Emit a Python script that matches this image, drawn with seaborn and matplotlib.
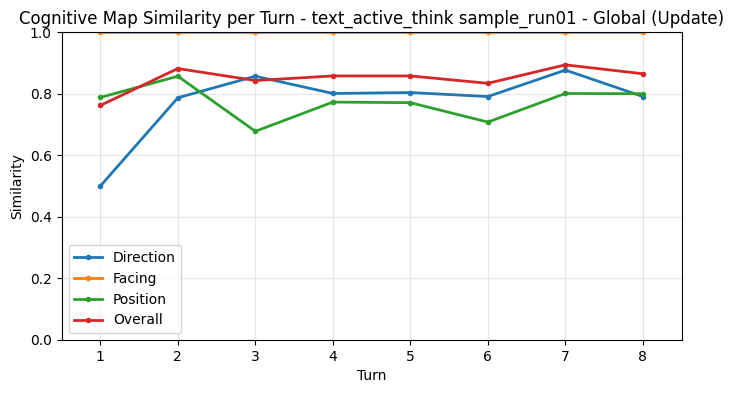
import matplotlib
matplotlib.use('Agg')
import matplotlib.pyplot as plt
import seaborn as sns
import pandas as pd

turns = [1, 2, 3, 4, 5, 6, 7, 8]
direction = [0.500, 0.787, 0.857, 0.801, 0.804, 0.791, 0.877, 0.791]
facing = [1.0, 1.0, 1.0, 1.0, 1.0, 1.0, 1.0, 1.0]
position = [0.788, 0.857, 0.678, 0.773, 0.771, 0.708, 0.801, 0.800]
overall = [0.762, 0.882, 0.843, 0.858, 0.858, 0.834, 0.894, 0.865]

series = {'Direction': direction, 'Facing': facing, 'Position': position, 'Overall': overall}
colors = ['#1f77b4', '#ff7f0e', '#2ca02c', '#d62728']

records = []
for name, vals in series.items():
    for t, v in zip(turns, vals):
        records.append({'Turn': t, 'Similarity': v, 'Metric': name})
df = pd.DataFrame(records)

fig, ax = plt.subplots(figsize=(7.33, 3.93), dpi=100)
fig.subplots_adjust(left=0.084, right=0.930, top=0.918, bottom=0.135)

sns.lineplot(data=df, x='Turn', y='Similarity', hue='Metric', palette=colors,
             marker='o', markersize=4, markeredgewidth=0, linewidth=2, ax=ax)

ax.set_ylim(0, 1.0)
ax.set_xlim(0.5, 8.5)
ax.set_xticks(turns)
ax.grid(True, alpha=0.3)
ax.set_xlabel('Turn')
ax.set_ylabel('Similarity')
ax.set_title('Cognitive Map Similarity per Turn - text_active_think sample_run01 - Global (Update)')
ax.legend(loc='lower left')

plt.savefig('out.png', dpi=100)
